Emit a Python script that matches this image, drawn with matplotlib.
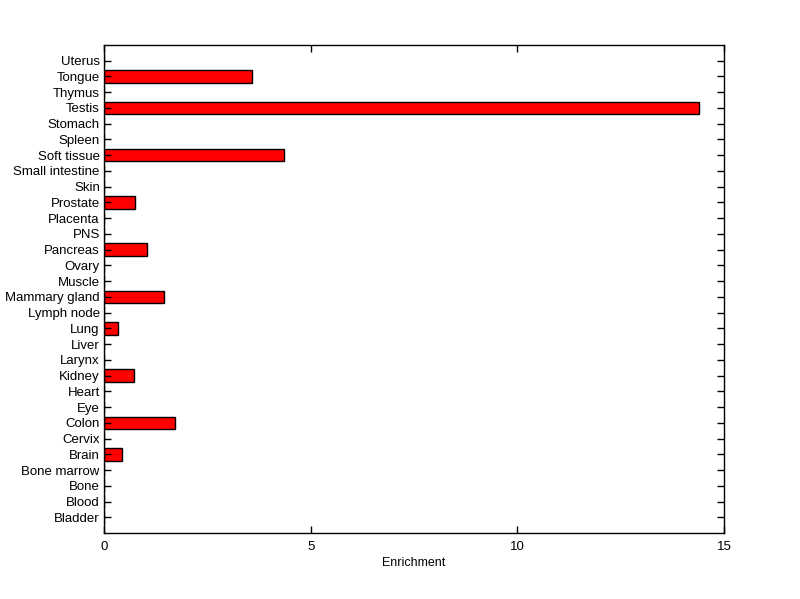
import matplotlib
matplotlib.use("Agg")
import matplotlib.pyplot as plt

categories = ["Bladder", "Blood", "Bone", "Bone marrow", "Brain", "Cervix", "Colon", "Eye",
              "Heart", "Kidney", "Larynx", "Liver", "Lung", "Lymph node", "Mammary gland",
              "Muscle", "Ovary", "Pancreas", "PNS", "Placenta", "Prostate", "Skin",
              "Small intestine", "Soft tissue", "Spleen", "Stomach", "Testis", "Thymus",
              "Tongue", "Uterus"]
values = [0, 0, 0, 0, 0.44, 0, 1.72, 0,
          0, 0.73, 0, 0, 0.34, 0, 1.45,
          0, 0, 1.04, 0, 0, 0.75, 0,
          0, 4.36, 0, 0, 14.39, 0,
          3.59, 0]
xticks = [0, 5, 10, 15]

plt.rcParams['font.family'] = ['Liberation Sans', 'DejaVu Sans']
fig = plt.figure(figsize=(8.0, 5.99), dpi=100)
ax = fig.add_axes([104/800, 1-533/599, (724-104)/800, (533-45)/599])

pos = list(range(len(categories)))
ax.barh(pos, values, height=0.8, color='#ff0000', edgecolor='black', linewidth=1.0)
ax.set_ylim(-1, len(categories))
ax.set_xlim(0, 15)
ax.set_xticks(xticks)
ax.set_xticklabels([str(t) for t in xticks], fontsize=9.5)
ax.set_yticks(pos)
ax.set_yticklabels(categories, fontsize=9.5)
ax.tick_params(direction='in', length=5, width=1, top=True, right=True)
ax.tick_params(axis='x', pad=6)
ax.tick_params(axis='y', pad=3)
ax.set_xlabel("Enrichment", fontsize=9, labelpad=3)
for s in ax.spines.values():
    s.set_linewidth(1.0)

fig.savefig("out.png", dpi=100)
